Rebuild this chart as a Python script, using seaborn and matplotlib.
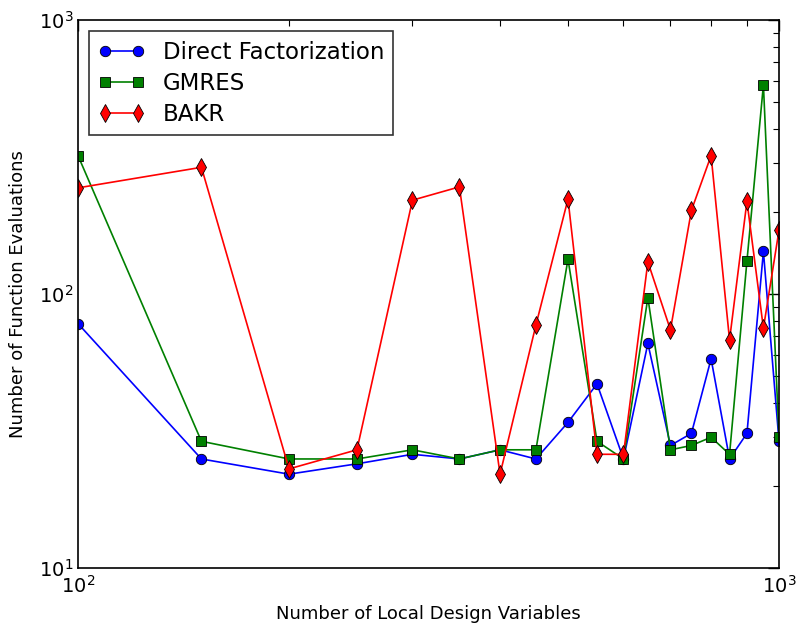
import numpy as np
import pandas as pd
import matplotlib
matplotlib.use("Agg")
import matplotlib.pyplot as plt
from matplotlib.ticker import NullFormatter
import seaborn as sns

# Problem sizes (number of local design variables)
design_vars = [100, 150, 200, 250, 300, 350, 400, 450, 500, 550,
               600, 650, 700, 750, 800, 850, 900, 950, 1000]

# Function evaluations for each solver
direct_evals = [78, 25, 22, 24, 26, 25, 27, 25, 34, 47,
                25, 66, 28, 31, 58, 25, 31, 143, 29]
gmres_evals = [320, 29, 25, 25, 27, 25, 27, 27, 134, 29,
               25, 97, 27, 28, 30, 26, 132, 580, 30]
bakr_evals = [244, 290, 23, 27, 220, 246, 22, 77, 222, 26,
              26, 131, 74, 202, 320, 68, 218, 75, 171]

series_names = ["Direct Factorization", "GMRES", "BAKR"]
series_colors = ["#0000ff", "#008000", "#ff0000"]
series_markers = ["o", "s", "d"]

df = pd.DataFrame({
    "n": design_vars * 3,
    "evals": direct_evals + gmres_evals + bakr_evals,
    "solver": sum([[name] * len(design_vars) for name in series_names], []),
})

sns.set_style("white")
plt.rcParams["font.family"] = ["DejaVu Sans"]
plt.rcParams["mathtext.fontset"] = "dejavusans"
plt.rcParams["text.color"] = "black"
plt.rcParams["axes.labelcolor"] = "black"

fig = plt.figure(figsize=(7.99, 6.27), dpi=100)
ax = fig.add_axes([0.0976, 0.0941, 0.8774, 0.874])

for name, color, marker in zip(series_names, series_colors, series_markers):
    sub = df[df["solver"] == name]
    sns.lineplot(data=sub, x="n", y="evals", ax=ax, color=color,
                 marker=marker, markersize=7.5 if marker != "d" else 9,
                 markeredgecolor="black", markeredgewidth=0.6,
                 linewidth=1.2, label=name, estimator=None, sort=False)

ax.set_xscale("log")
ax.set_yscale("log")
ax.set_xlim(100, 1000)
ax.set_ylim(10, 1000)
ax.xaxis.set_minor_formatter(NullFormatter())
ax.yaxis.set_minor_formatter(NullFormatter())

ax.set_xlabel("Number of Local Design Variables", fontsize=13, labelpad=6)
ax.set_ylabel("Number of Function Evaluations", fontsize=13, labelpad=8)

ax.tick_params(which="both", direction="in", top=True, right=True,
               labelsize=14, colors="black")
ax.tick_params(which="major", length=8, width=1)
ax.tick_params(which="minor", length=4, width=0.8)
ax.tick_params(axis="x", which="major", pad=5)

for spine in ax.spines.values():
    spine.set_color("black")
    spine.set_linewidth(1.2)

leg = ax.legend(loc="upper left", fontsize=16.5, frameon=True, fancybox=False,
                numpoints=2, borderpad=0.4, handlelength=2.0, handletextpad=0.8,
                labelspacing=0.35, borderaxespad=0.5)
leg.get_frame().set_edgecolor("black")
leg.get_frame().set_linewidth(1.2)
for txt in leg.get_texts():
    txt.set_color("black")

fig.savefig("out.png", dpi=100, facecolor="white")
